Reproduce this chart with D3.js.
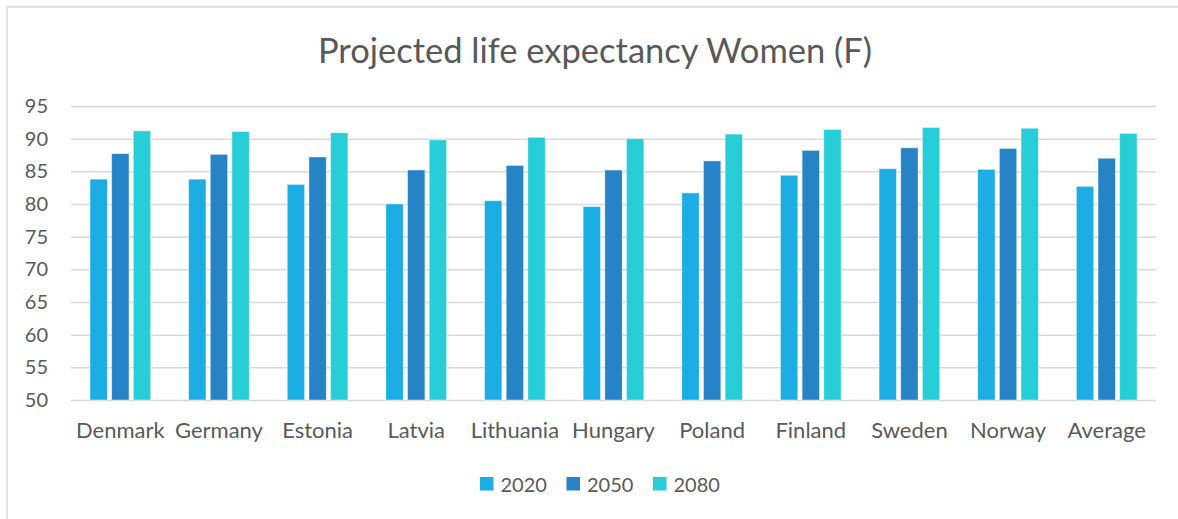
<!DOCTYPE html>
<html>
<head>
<meta charset="utf-8">
<script src="https://cdn.jsdelivr.net/npm/d3@7"></script>
<style>
  html, body { margin: 0; padding: 0; background: #fff; }
  text { font-family: Lato, "Open Sans", sans-serif; fill: #595959; }
</style>
</head>
<body>
<div id="chart"></div>
<script>
/* --- data ---------------------------------------------------------------- */
const countries = ["Denmark","Germany","Estonia","Latvia","Lithuania","Hungary","Poland","Finland","Sweden","Norway","Average"];
const years = ["2020","2050","2080"];
const v2020 = [83.8, 83.8, 83.0, 80.0, 80.5, 79.6, 81.7, 84.4, 85.4, 85.3, 82.7];
const v2050 = [87.7, 87.6, 87.2, 85.2, 85.9, 85.2, 86.6, 88.2, 88.6, 88.5, 87.0];
const v2080 = [91.2, 91.1, 90.9, 89.8, 90.2, 90.0, 90.7, 91.4, 91.7, 91.6, 90.8];
const yTicks = [50, 55, 60, 65, 70, 75, 80, 85, 90, 95];
const colors = {"2020": "#1CADE4", "2050": "#2683C6", "2080": "#27CED7"};

const series = {"2020": v2020, "2050": v2050, "2080": v2080};
const rows = countries.map((c, i) => ({c, vals: years.map(y => ({y, v: series[y][i]}))}));

/* --- layout -------------------------------------------------------------- */
const W = 1178, H = 519;
const plot = {left: 71, right: 1156, top: 106, bottom: 400};

const svg = d3.select("#chart").append("svg").attr("width", W).attr("height", H);

// chart frame (only top/left edges visible in the crop)
svg.append("path")
  .attr("d", `M7,${H} L7,7 L${W},7`)
  .attr("fill", "none").attr("stroke", "#d9d9d9").attr("stroke-width", 1.5);

const x0 = d3.scaleBand().domain(countries).range([plot.left, plot.right]);
const x1 = d3.scaleBand().domain(years).range([19, x0.bandwidth() - 19]).paddingInner(0.2);
const y = d3.scaleLinear().domain([50, 95]).range([plot.bottom, plot.top]);

/* --- gridlines + y labels ------------------------------------------------ */
const yAxis = svg.append("g")
  .attr("transform", `translate(${plot.left},0)`)
  .call(d3.axisLeft(y).tickValues(yTicks).tickSize(-(plot.right - plot.left)).tickPadding(23));
yAxis.select(".domain").remove();
yAxis.selectAll(".tick line").attr("stroke", "#d9d9d9").attr("stroke-width", 1.5);
yAxis.selectAll(".tick text")
  .style("font-family", "Lato, 'Open Sans', sans-serif")
  .attr("font-size", 20).attr("fill", "#595959");

/* --- bars ---------------------------------------------------------------- */
const grp = svg.append("g").selectAll("g")
  .data(rows)
  .join("g")
    .attr("transform", d => `translate(${x0(d.c)},0)`);

grp.selectAll("rect")
  .data(d => d.vals)
  .join("rect")
    .attr("x", d => x1(d.y))
    .attr("y", d => y(d.v))
    .attr("width", x1.bandwidth())
    .attr("height", d => y(50) - y(d.v))
    .attr("fill", d => colors[d.y])
    .attr("stroke", "#fff").attr("stroke-opacity", 0.5).attr("stroke-width", 0.8);

/* --- x labels ------------------------------------------------------------ */
const xAxis = svg.append("g")
  .attr("transform", `translate(0,${plot.bottom})`)
  .call(d3.axisBottom(x0).tickSize(0).tickPadding(22));
xAxis.select(".domain").remove();
xAxis.selectAll(".tick text")
  .style("font-family", "Lato, 'Open Sans', sans-serif")
  .attr("font-size", 22).attr("fill", "#595959");

/* --- title --------------------------------------------------------------- */
svg.append("text")
  .attr("x", 595).attr("y", 63)
  .attr("text-anchor", "middle")
  .attr("font-size", 34.5)
  .text("Projected life expectancy Women (F)");

/* --- legend -------------------------------------------------------------- */
const legX = [480, 566.5, 653];
const leg = svg.append("g").selectAll("g")
  .data(years)
  .join("g")
    .attr("transform", (d, i) => `translate(${legX[i]},477)`);
leg.append("rect").attr("width", 13.5).attr("height", 13.5).attr("fill", d => colors[d]);
leg.append("text").attr("x", 20.5).attr("y", 15).attr("font-size", 20).text(d => d);
</script>
</body>
</html>
